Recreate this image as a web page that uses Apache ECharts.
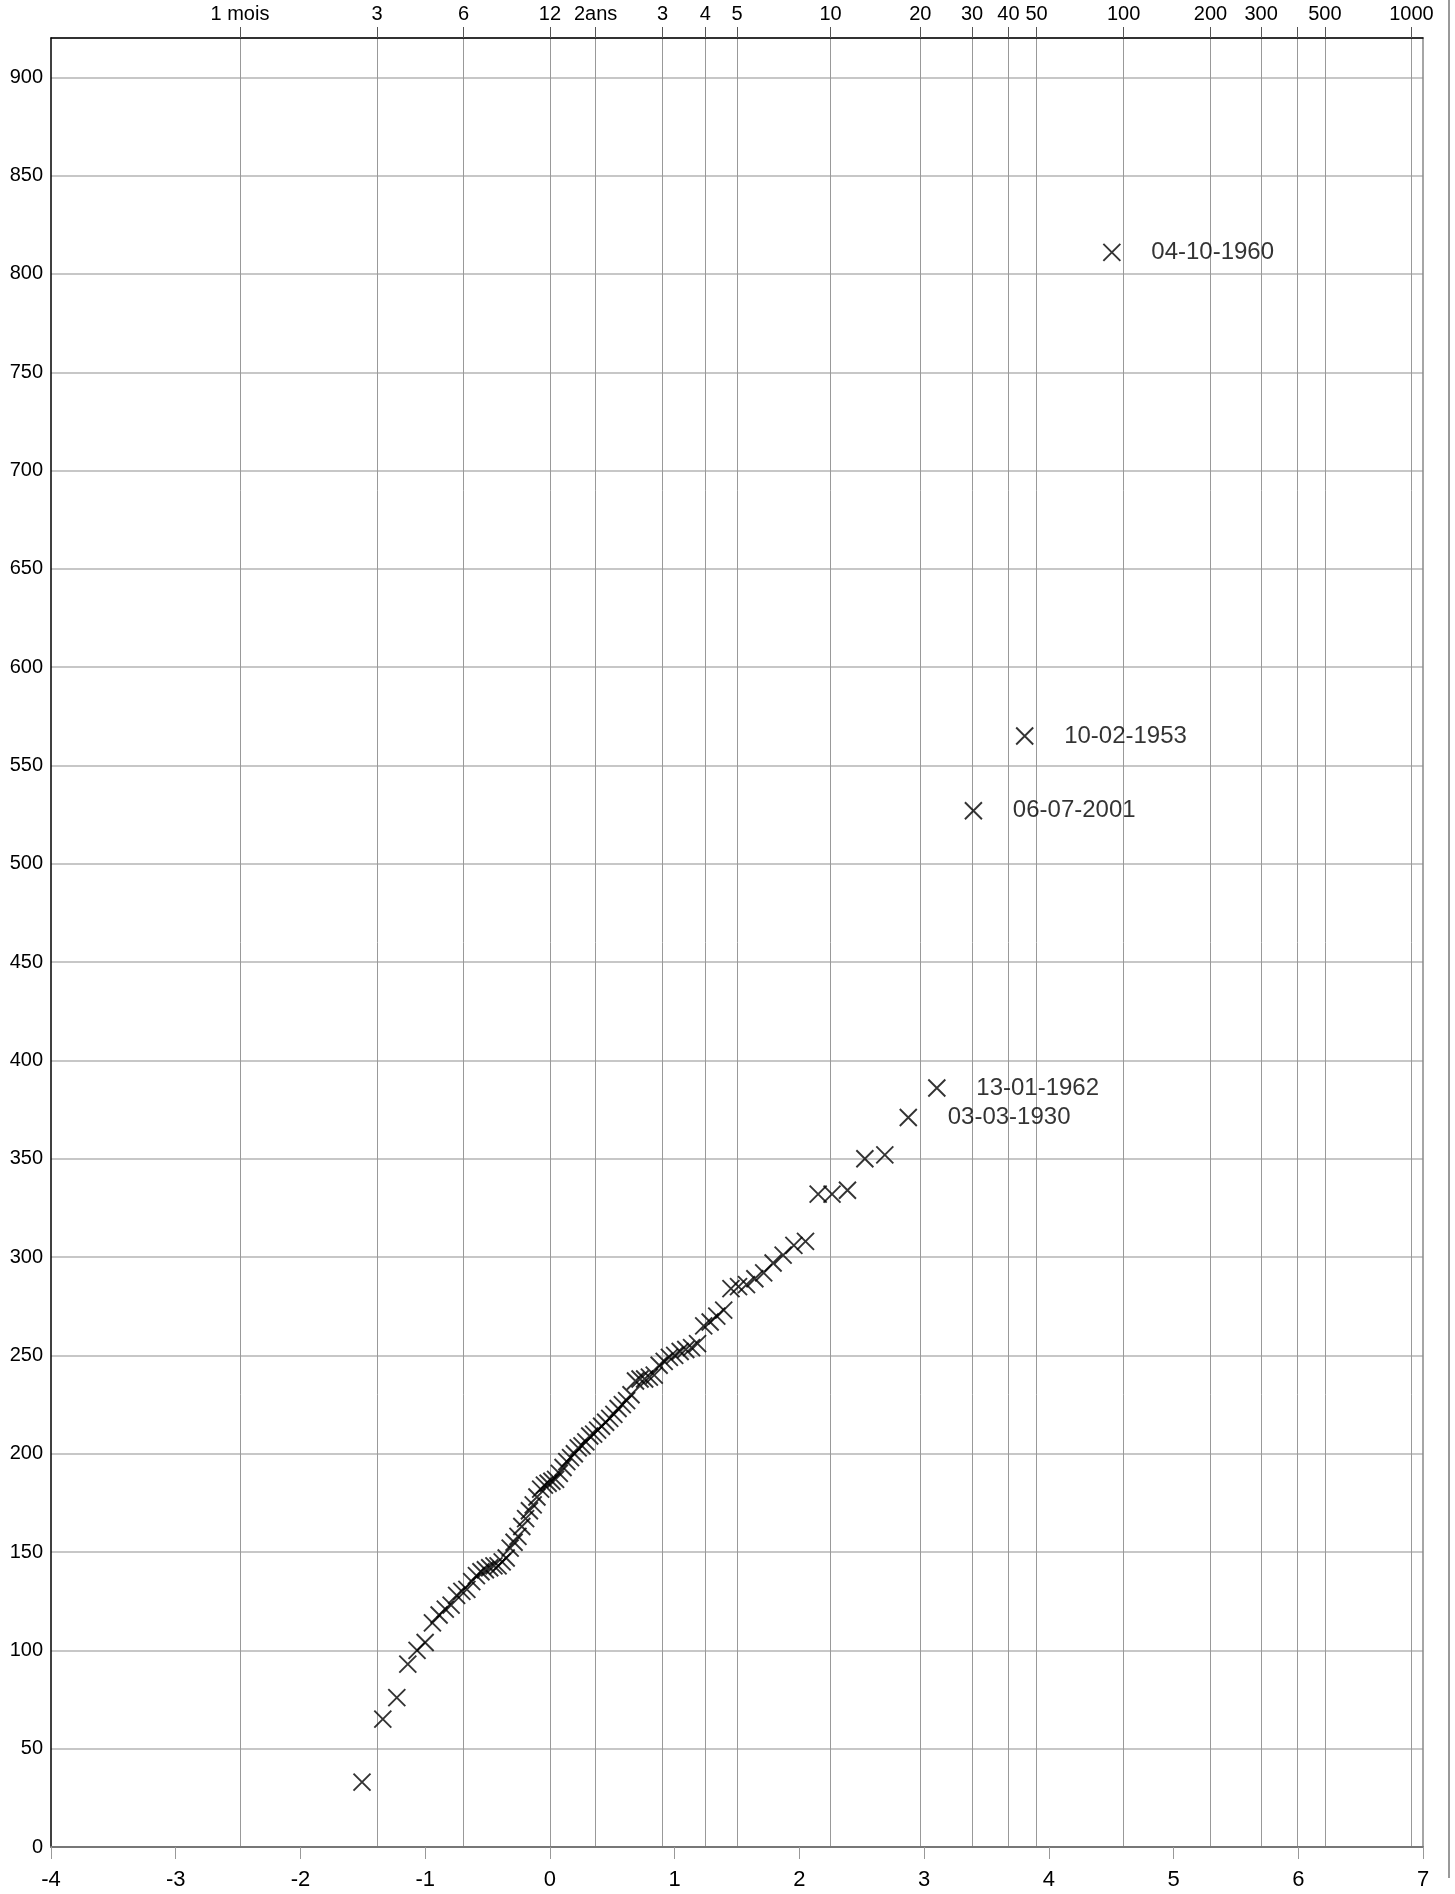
<!DOCTYPE html>
<html>
<head>
<meta charset="utf-8">
<script src="https://cdn.jsdelivr.net/npm/echarts@6/dist/echarts.min.js"></script>
<style>
  html, body { margin: 0; padding: 0; background: #fff; }
  #chart { width: 1455px; height: 1894px; }
</style>
</head>
<body>
<div id="chart"></div>
<script>
// Annual maxima, sorted ascending (90 years of record)
const annualMax = [
  33, 65, 76, 93, 100, 104, 114, 118, 121, 123,
  128, 130, 131, 135, 138, 140, 141, 142, 143, 143,
  145, 147, 152, 155, 158, 163, 167, 171, 174, 178,
  182, 184, 185, 186, 187, 190, 193, 196, 198, 200,
  203, 204, 206, 209, 210, 212, 214, 216, 218, 220,
  223, 225, 227, 230, 237, 238, 238, 239, 240, 245,
  247, 249, 250, 252, 253, 254, 256, 265, 267, 270,
  273, 284, 285, 286, 289, 292, 297, 301, 306, 308,
  332, 332, 334, 350, 352, 371, 386, 527, 565, 811
];

// Dates of the five largest events (the last five values above)
const topDates = ['03-03-1930', '13-01-1962', '06-07-2001', '10-02-1953', '04-10-1960'];

// Return periods (years) shown on the top axis, with their labels
const periodYears = [1/12, 3/12, 6/12, 1, 2, 3, 4, 5, 10, 20, 30, 40, 50, 100, 200, 300, 400, 500, 1000];
const periodLabels = ['1 mois', '3', '6', '12', '2ans', '3', '4', '5', '10', '20', '30', '40', '50', '100', '200', '300', '', '500', '1000'];

// Axis ranges
const uMin = -4, uMax = 7, uStep = 1;
const yMin = 0, yMax = 920, yStep = 50;

// Gumbel reduced variable for a return period T (years);
// sub-annual periods use u = ln(T)
function reducedVariate(T) {
  return T <= 1 ? Math.log(T) : -Math.log(-Math.log(1 - 1 / T));
}

const periodU = periodYears.map(reducedVariate);
const labelledU = periodU.filter((u, i) => periodLabels[i] !== '');

function periodLabelFor(value) {
  for (let i = 0; i < periodU.length; i++) {
    if (Math.abs(periodU[i] - value) < 1e-6) return periodLabels[i];
  }
  return '';
}

// Weibull plotting position i/(N+1) -> reduced variable
const N = annualMax.length;
const points = annualMax.map((v, i) => {
  const p = (i + 1) / (N + 1);
  const item = { value: [-Math.log(-Math.log(p)), v] };
  const k = i - (N - topDates.length);
  if (k >= 0) {
    item.label = { show: true, formatter: topDates[k] };
  }
  return item;
});

const FONT = 'Arial, "Liberation Sans", Helvetica, sans-serif';

const chart = echarts.init(document.getElementById('chart'), null, { renderer: 'canvas' });
chart.setOption({
  animation: false,
  backgroundColor: '#fff',
  grid: { left: 51, right: 32, top: 38, bottom: 47, containLabel: false },
  xAxis: [
    {
      type: 'value', position: 'bottom',
      min: uMin, max: uMax, interval: uStep,
      axisLine: { show: true, lineStyle: { color: '#777', width: 2 } },
      axisTick: { show: true, inside: false, length: 12, lineStyle: { color: '#999', width: 1 } },
      axisLabel: {
        show: true, margin: 22, color: '#000', fontSize: 22, fontFamily: FONT,
        showMinLabel: true, showMaxLabel: true
      },
      splitLine: { show: false }
    },
    {
      type: 'value', position: 'top',
      min: uMin, max: uMax,
      axisLine: { show: true, onZero: false, lineStyle: { color: '#000', width: 1.5 } },
      axisTick: { show: true, inside: false, length: 11, customValues: periodU, lineStyle: { color: '#555', width: 1 } },
      axisLabel: {
        show: true, margin: 14, color: '#000', fontSize: 20, fontFamily: FONT,
        customValues: labelledU,
        formatter: periodLabelFor
      },
      splitLine: { show: true, lineStyle: { color: '#999', width: 1 } }
    }
  ],
  yAxis: [
    {
      type: 'value', position: 'left',
      min: yMin, max: yMax, interval: yStep,
      axisLine: { show: true, onZero: false, lineStyle: { color: '#000', width: 1.5 } },
      axisTick: { show: false },
      axisLabel: {
        show: true, margin: 8, color: '#000', fontSize: 20, fontFamily: FONT,
        showMaxLabel: false, showMinLabel: true
      },
      splitLine: { show: true, lineStyle: { color: '#b4b4b4', width: 1.5 } }
    },
    {
      type: 'value', position: 'right',
      min: yMin, max: yMax,
      axisLine: { show: true, onZero: false, lineStyle: { color: '#888', width: 1.5 } },
      axisTick: { show: false },
      axisLabel: { show: false },
      splitLine: { show: false }
    }
  ],
  graphic: [
    {
      type: 'line', silent: true,
      shape: { x1: 1449, y1: 0, x2: 1449, y2: 1878 },
      style: { stroke: '#777', lineWidth: 1.5 }
    }
  ],
  series: [
    {
      type: 'scatter',
      xAxisIndex: 0, yAxisIndex: 0,
      data: points,
      symbol: 'path://M0,0L16,16M16,0L0,16',
      symbolSize: 17,
      itemStyle: { color: 'rgba(0,0,0,0)', borderColor: '#000', borderWidth: 1.9 },
      label: {
        show: false, position: 'right', distance: 30,
        color: '#000', fontSize: 24, fontFamily: FONT
      },
      emphasis: { disabled: true },
      z: 5
    }
  ]
});
</script>
</body>
</html>
